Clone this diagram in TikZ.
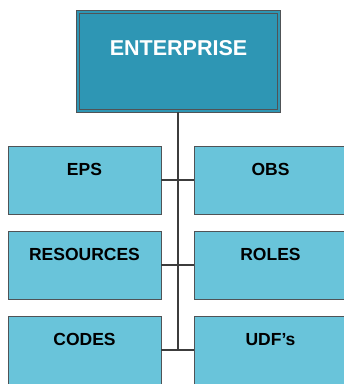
\documentclass[tikz,border=0pt]{standalone}
\usepackage{fontspec}
\setmainfont{Liberation Sans}
\definecolor{entfill}{HTML}{2E96B4}
\definecolor{boxfill}{HTML}{69C4DA}
\definecolor{edge}{HTML}{505356}
\definecolor{wire}{HTML}{3C3C3C}
\tikzset{
  entbox/.style={draw=edge, line width=1pt, double=entfill, double distance=2pt, fill=entfill,
    minimum width=201pt, inner sep=0pt, text height=43pt, text depth=56pt,
    font=\bfseries\fontsize{21.5}{24}\selectfont, text=white},
  smallbox/.style={draw=edge, line width=0.9pt, fill=boxfill, minimum width=153pt,
    inner sep=0pt, text height=29pt, text depth=39pt,
    font=\bfseries\fontsize{17.5}{20}\selectfont, text=black},
  trunk/.style={draw=wire, line width=2pt},
  branch/.style={draw=wire, line width=1.3pt}
}
\begin{document}
\begin{tikzpicture}[x=1pt,y=-1pt]
\useasboundingbox (0,0) rectangle (344,384);
\clip (0,0) rectangle (344,384);
\node[entbox] (ent) at (178.5,61.5) {ENTERPRISE};
\node[smallbox] (eps) at (84.5,180) {EPS};
\node[smallbox] (obs) at (270.5,180) {OBS};
\node[smallbox] (res) at (84.5,265) {RESOURCES};
\node[smallbox] (rol) at (270.5,265) {ROLES};
\node[smallbox] (cod) at (84.5,350) {CODES};
\node[smallbox] (udf) at (270.5,350) {UDF’s};
\coordinate (bot) at (177.7,350.5);
\draw[trunk] (ent.south -| bot) -- (bot);
\draw[branch] (eps.east) -- (obs.west);
\draw[branch] (res.east) -- (rol.west);
\draw[branch] (cod.east) -- (udf.west);
\end{tikzpicture}
\end{document}
